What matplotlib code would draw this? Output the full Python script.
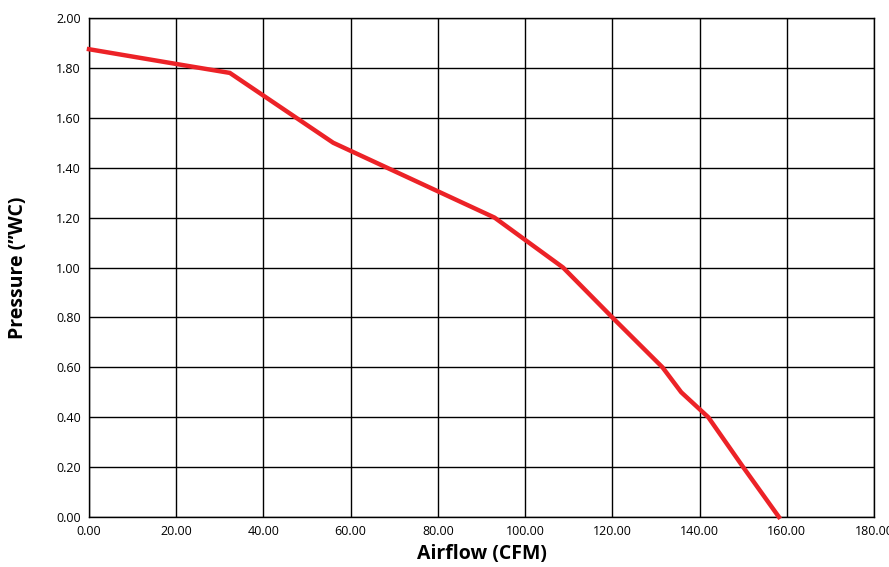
import matplotlib
matplotlib.use("Agg")
import matplotlib.pyplot as plt
import numpy as np

# 风量-静压曲线 (读图估值)
airflow = [0.0, 22.0, 32.3, 56.0, 93.0, 108.7, 120.0, 131.5, 135.8, 142.0, 150.0, 158.2]
pressure = [1.875, 1.81, 1.78, 1.50, 1.20, 1.00, 0.80, 0.60, 0.50, 0.40, 0.20, 0.00]

x_ticks = np.arange(0, 181, 20)
y_ticks = np.arange(0, 2.01, 0.2)

plt.rcParams['font.family'] = ['Open Sans', 'DejaVu Sans']

fig = plt.figure(figsize=(8.89, 5.67), dpi=100)
ax = fig.add_axes([0.1001, 0.0882, 0.883, 0.880])

ax.plot(airflow, pressure, color='#EC2227', linewidth=3.2, solid_joinstyle='miter',
        clip_on=False, zorder=3)

ax.set_xlim(0, 180)
ax.set_ylim(0, 2.0)
ax.set_xticks(x_ticks)
ax.set_yticks(y_ticks)
ax.set_xticklabels([f"{v:.2f}" for v in x_ticks], fontsize=9)
ax.set_yticklabels([f"{v:.2f}" for v in y_ticks], fontsize=9)
ax.tick_params(length=0, pad=6)
ax.grid(True, color='black', linewidth=1.0)
ax.set_axisbelow(True)
for s in ax.spines.values():
    s.set_color('black')
    s.set_linewidth(1.0)

ax.set_xlabel("Airflow (CFM)", fontsize=14, fontweight='bold', labelpad=4)
ax.set_ylabel("Pressure (”WC)", fontsize=14, fontweight='bold', labelpad=20)

plt.savefig("out.png", dpi=100)
plt.close()
